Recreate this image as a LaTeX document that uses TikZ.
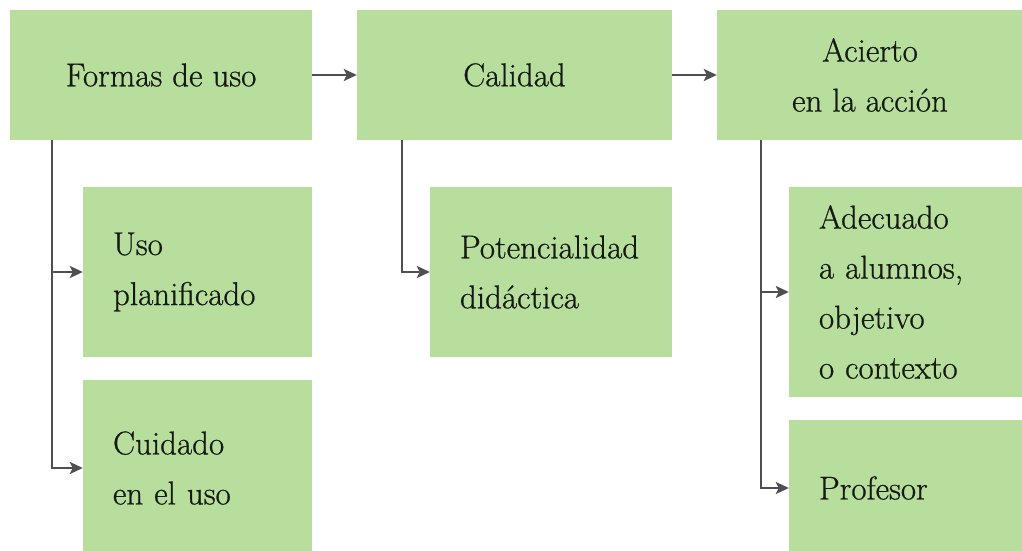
\documentclass[tikz,border=0pt]{standalone}
\usepackage{fontspec}
\usetikzlibrary{arrows.meta,calc}
\newfontfamily\boxfont{Latin Modern Roman}[FakeBold=0.7]
\definecolor{boxgreen}{RGB}{184,222,158}
\definecolor{arrowgray}{RGB}{78,78,84}
\definecolor{txt}{RGB}{20,26,16}
\begin{document}
\begin{tikzpicture}[x=1pt,y=-1pt,
  box/.style={fill=boxgreen,draw=none,inner sep=0pt,text=txt,font=\boxfont\fontsize{33}{50}\selectfont},
  topbox/.style={box,align=center},
  subbox/.style={box,align=left,inner xsep=30pt},
  conn/.style={draw=arrowgray,line width=2.4pt,-{Stealth[length=13pt,width=12pt,inset=3pt]}}]
\useasboundingbox (0,0) rectangle (1022,551);
\fill[white] (0,0) rectangle (1022,551);
% top row
\node[topbox,minimum width=302pt,minimum height=130pt] (b1) at (161,75) {Formas de uso};
\node[topbox,minimum width=315pt,minimum height=130pt] (b2) at (514.5,75) {Calidad};
\node[topbox,minimum width=306pt,minimum height=130pt] (b3) at (870,75) {Acierto\\en la acción};
% sub boxes
\node[subbox,minimum width=229pt,minimum height=170pt,text width=169pt] (s1) at (197.5,272) {Uso\\planificado};
\node[subbox,minimum width=229pt,minimum height=176pt,text width=169pt] (s2) at (197.5,468) {Cuidado\\en el uso};
\node[subbox,minimum width=242pt,minimum height=170pt,text width=182pt] (s3) at (551,272) {Potencialidad\\didáctica};
\node[subbox,minimum width=234pt,minimum height=210pt,text width=174pt] (s4) at (906,292) {Adecuado\\a alumnos,\\objetivo\\o contexto};
\node[subbox,minimum width=234pt,minimum height=136pt,text width=174pt] (s5) at (906,488) {Profesor};
% connectors
\draw[conn] (b1.east) -- (b2.west);
\draw[conn] (b2.east) -- (b3.west);
\draw[conn] ([xshift=42pt]b1.south west) |- (s1.west);
\draw[conn] ([xshift=42pt]b1.south west) |- (s2.west);
\draw[conn] ([xshift=45pt]b2.south west) |- (s3.west);
\draw[conn] ([xshift=44pt]b3.south west) |- (s4.west);
\draw[conn] ([xshift=44pt]b3.south west) |- (s5.west);
\end{tikzpicture}
\end{document}
